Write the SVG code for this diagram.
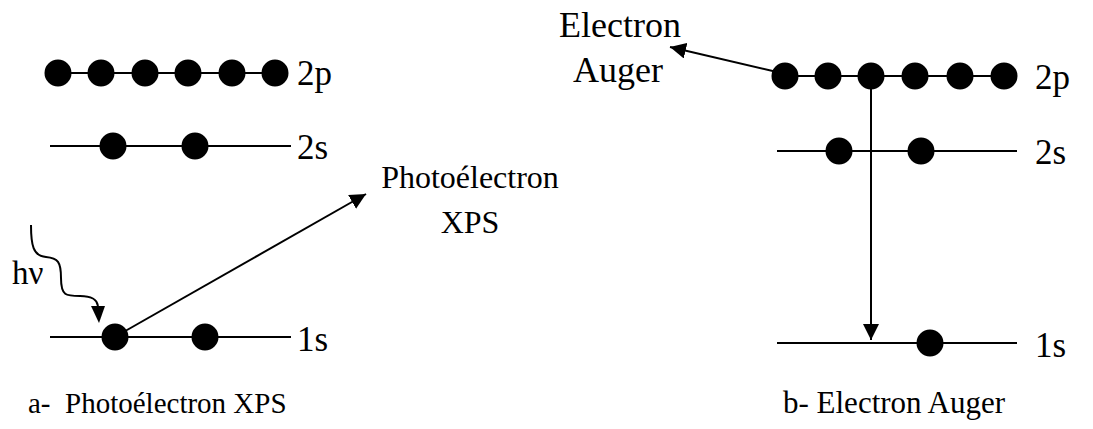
<svg xmlns="http://www.w3.org/2000/svg" width="1093" height="429" viewBox="0 0 1093 429">
<defs>
<marker id="ah2" viewBox="0 0 10 10" refX="10" refY="5" markerWidth="16" markerHeight="16" markerUnits="userSpaceOnUse" orient="auto">
<path d="M0,0 L10,5 L0,10 z" fill="#000"/>
</marker>
</defs>
<rect width="1093" height="429" fill="#fff"/>
<g id="left-2p" stroke="#000" stroke-width="2">
<line x1="58" y1="73" x2="274" y2="73"/>
<circle cx="58" cy="73" r="12.5"/>
<circle cx="101" cy="73" r="12.5"/>
<circle cx="145" cy="73" r="12.5"/>
<circle cx="188" cy="73" r="12.5"/>
<circle cx="232" cy="73" r="12.5"/>
<circle cx="275" cy="73" r="12.5"/>
<text x="297" y="85" stroke="none" style="font-family:'Liberation Serif';font-size:35px">2p</text>
</g>
<g id="left-2s" stroke="#000" stroke-width="2">
<line x1="50" y1="146" x2="291" y2="146"/>
<circle cx="113" cy="146" r="12.5"/>
<circle cx="195" cy="146" r="12.5"/>
<text x="297" y="159" stroke="none" style="font-family:'Liberation Serif';font-size:35px">2s</text>
</g>
<g id="left-1s" stroke="#000" stroke-width="2">
<line x1="50" y1="337" x2="291" y2="337"/>
<circle cx="115" cy="337" r="12.5"/>
<circle cx="205" cy="337" r="12.5"/>
<text x="297" y="351" stroke="none" style="font-family:'Liberation Serif';font-size:35px">1s</text>
</g>
<g id="hv-label"><text x="12" y="284" style="font-family:'Liberation Serif';font-size:33px">hν</text></g>
<g id="photoelectron-label">
<text x="470" y="188" text-anchor="middle" style="font-family:'Liberation Serif';font-size:32px">Photoélectron</text>
<text x="470" y="233" text-anchor="middle" style="font-family:'Liberation Serif';font-size:32px">XPS</text>
</g>
<g id="right-2p" stroke="#000" stroke-width="2">
<line x1="785" y1="76" x2="1004" y2="76"/>
<circle cx="785" cy="76" r="12.5"/>
<circle cx="828" cy="76" r="12.5"/>
<circle cx="871" cy="76" r="12.5"/>
<circle cx="915" cy="76" r="12.5"/>
<circle cx="960" cy="76" r="12.5"/>
<circle cx="1004" cy="76" r="12.5"/>
<text x="1035" y="89" stroke="none" style="font-family:'Liberation Serif';font-size:35px">2p</text>
</g>
<g id="right-2s" stroke="#000" stroke-width="2">
<line x1="777" y1="151" x2="1017" y2="151"/>
<circle cx="839" cy="151" r="12.5"/>
<circle cx="921" cy="151" r="12.5"/>
<text x="1035" y="164" stroke="none" style="font-family:'Liberation Serif';font-size:35px">2s</text>
</g>
<g id="right-1s" stroke="#000" stroke-width="2">
<line x1="777" y1="343" x2="1017" y2="343"/>
<circle cx="930" cy="343" r="12.5"/>
<text x="1035" y="357" stroke="none" style="font-family:'Liberation Serif';font-size:35px">1s</text>
</g>
<g id="auger-label">
<text x="620" y="37" text-anchor="middle" style="font-family:'Liberation Serif';font-size:36px">Electron</text>
<text x="618" y="82" text-anchor="middle" style="font-family:'Liberation Serif';font-size:36px">Auger</text>
</g>
<g id="captions">
<text x="28" y="413" xml:space="preserve" style="font-family:'Liberation Serif';font-size:29px">a-  Photoélectron XPS</text>
<text x="783" y="413" style="font-family:'Liberation Serif';font-size:31px">b- Electron Auger</text>
</g>
<g id="connectors" stroke="#000" stroke-width="2" fill="none">
<line x1="120" y1="334" x2="366" y2="194" marker-end="url(#ah2)"/>
<path d="M31,225 C31,245 33,256 46,257 C58,258 61,262 61,278 C61,296 66,296 80,296 C93,296 97,300 98,306"/>
<path d="M91,306 L105,306 L99,323 z" fill="#000" stroke="none"/>
<line x1="777" y1="72" x2="670" y2="47" marker-end="url(#ah2)"/>
<line x1="871" y1="76" x2="871" y2="340" marker-end="url(#ah2)"/>
</g>
</svg>
